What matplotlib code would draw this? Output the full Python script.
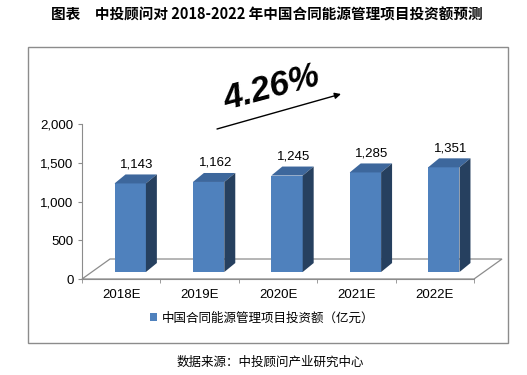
import numpy as np
import matplotlib.pyplot as plt
from matplotlib.patches import Polygon, Rectangle, Patch

plt.rcParams['font.family'] = ['Liberation Sans', 'Noto Sans CJK SC', 'DejaVu Sans']
CJK = ['Noto Sans CJK SC', 'DejaVu Sans']

# 数据
years = ['2018E', '2019E', '2020E', '2021E', '2022E']
invest = [1143, 1162, 1245, 1285, 1351]
growth_label = '4.26%'
series_name = '中国合同能源管理项目投资额（亿元）'
title = '图表　中投顾问对 2018-2022 年中国合同能源管理项目投资额预测'
source = '数据来源：中投顾问产业研究中心'

# 颜色
c_front = '#4F81BD'
c_top = '#3D679C'
c_side = '#26405F'
c_axis = '#8C8C8C'

W, H = 527, 375
fig = plt.figure(figsize=(W / 100, H / 100), dpi=100)

def fx(px):
    return px / W

def fy(py):
    return (H - py) / H

# 外框
fig.add_artist(Rectangle((fx(28), fy(343)), fx(508) - fx(28), fy(47) - fy(343),
                         transform=fig.transFigure, fill=False,
                         edgecolor=c_axis, linewidth=1))

ax = fig.add_axes([fx(82), fy(279), fx(474) - fx(82), fy(124) - fy(279)])
ax.set_xlim(-0.5, 4.5)
ax.set_ylim(0, 2000)
ax.patch.set_alpha(0)

x = np.arange(len(years))
# 三维效果参数（数据坐标）
floor_dx, floor_dy = 0.357, 258
lift_dx, lift_dy = 0.115, 90
bar_w = 0.40
dep_dx, dep_dy = 0.14, 116

# 底面
floor = [(-0.5, 0), (4.5, 0), (4.5 + floor_dx, floor_dy), (-0.5 + floor_dx, floor_dy)]
ax.add_patch(Polygon(floor, closed=True, fill=False, edgecolor=c_axis,
                     linewidth=0.9, clip_on=False))

for xi, v in zip(x, invest):
    x0 = xi + lift_dx - bar_w / 2
    x1 = x0 + bar_w
    b = lift_dy
    t = lift_dy + v
    ax.add_patch(Rectangle((x0, b), bar_w, v, facecolor=c_front, edgecolor='none',
                           clip_on=False, zorder=3))
    ax.add_patch(Polygon([(x0, t), (x1, t), (x1 + dep_dx, t + dep_dy), (x0 + dep_dx, t + dep_dy)],
                         facecolor=c_top, edgecolor='none', clip_on=False, zorder=3))
    ax.add_patch(Polygon([(x1, b), (x1 + dep_dx, b + dep_dy), (x1 + dep_dx, t + dep_dy), (x1, t)],
                         facecolor=c_side, edgecolor='none', clip_on=False, zorder=3))
    ax.annotate(f'{v:,}', xy=(xi + lift_dx + dep_dx * 0.6, t + dep_dy), xytext=(0, 3),
                textcoords='offset points', ha='center', va='bottom', fontsize=9.5)

# 坐标轴
for s in ['top', 'right']:
    ax.spines[s].set_visible(False)
ax.spines['left'].set_color(c_axis)
ax.spines['bottom'].set_color(c_axis)
ax.set_yticks([0, 500, 1000, 1500, 2000])
ax.set_yticklabels([f'{v:,}' for v in [0, 500, 1000, 1500, 2000]], fontsize=9.5)
ax.tick_params(axis='y', length=3, color=c_axis, pad=3)
ax.set_xticks(x)
ax.set_xticklabels(years, fontsize=9.5)
ax.tick_params(axis='x', which='major', length=0, pad=7)
ax.set_xticks(np.arange(-0.5, 5, 1), minor=True)
ax.tick_params(axis='x', which='minor', length=3, color=c_axis)

# 增长率标注
fig.text(fx(272), fy(88), growth_label, ha='center', va='center', rotation=15,
         fontsize=25, fontweight='bold', fontstyle='italic')
ax.annotate('', xy=(fx(341), fy(94)), xycoords='figure fraction',
            xytext=(fx(217), fy(129)), textcoords='figure fraction',
            arrowprops=dict(arrowstyle='-|>', color='black', lw=1, mutation_scale=9,
                            shrinkA=0, shrinkB=0))

# 图例
fig.legend(handles=[Patch(facecolor=c_front, edgecolor='none')], labels=[series_name],
           loc='center', bbox_to_anchor=(fx(262), fy(318)), frameon=False,
           prop={'family': CJK, 'size': 9}, handlelength=0.6, handleheight=0.6,
           handletextpad=0.4)

# 标题与来源
fig.text(fx(267), fy(15), title, ha='center', va='center', fontsize=10.5,
         fontweight='bold', family=CJK)
fig.text(fx(270), fy(362), source, ha='center', va='center', fontsize=9, family=CJK)

fig.savefig('out.png', dpi=100)
